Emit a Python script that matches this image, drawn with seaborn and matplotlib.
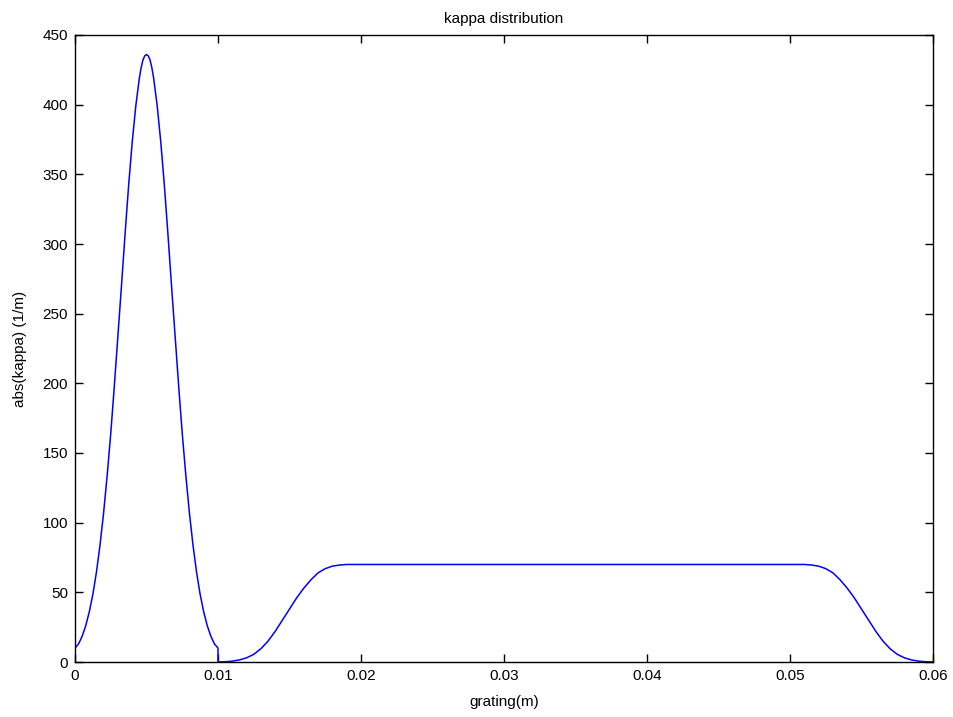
import matplotlib
matplotlib.use("Agg")
import matplotlib.pyplot as plt
import seaborn as sns
import pandas as pd

# ---- data ----
peak_x = [0.0, 0.00025, 0.0005, 0.00075, 0.001, 0.00125, 0.0015, 0.00175, 0.002,
          0.00225, 0.0025, 0.00275, 0.003, 0.00325, 0.0035, 0.00375, 0.004, 0.00425,
          0.0045, 0.004625, 0.00475, 0.004875, 0.005, 0.005125, 0.00525, 0.005375,
          0.0055, 0.00575, 0.006, 0.00625, 0.0065, 0.00675, 0.007, 0.00725, 0.0075,
          0.00775, 0.008, 0.00825, 0.0085, 0.00875, 0.009, 0.00925, 0.0095, 0.00975,
          0.01]
peak_y = [10, 13, 18.5, 26, 36, 48.6, 64.5, 84, 107, 134, 164, 198, 234, 270, 307,
          342, 373, 399, 419, 426.5, 432, 435, 436, 435, 432, 426.5, 419, 399, 373,
          342, 307, 270, 234, 198, 164, 134, 107, 84, 64.5, 48.6, 36, 26, 18.5, 13, 10]

plateau_x = [0.0100, 0.0105, 0.0110, 0.0115, 0.0120, 0.0125, 0.0130, 0.0135, 0.0140,
             0.0145, 0.0150, 0.0155, 0.0160, 0.0165, 0.0170, 0.0175, 0.0180, 0.0185,
             0.0190,
             0.0510, 0.0515, 0.0520, 0.0525, 0.0530, 0.0535, 0.0540, 0.0545, 0.0550,
             0.0555, 0.0560, 0.0565, 0.0570, 0.0575, 0.0580, 0.0585, 0.0590, 0.0595,
             0.0600]
plateau_y = [0, 0.2, 0.6, 1.5, 3, 5.5, 9.5, 15, 22, 30, 38, 46, 53, 59, 64, 67, 68.8,
             69.6, 70,
             70, 69.6, 68.8, 67, 64, 59, 53, 46, 38, 30, 22, 15, 9.5, 5.5, 3, 1.5, 0.6,
             0.2, 0]

x_ticks = [0, 0.01, 0.02, 0.03, 0.04, 0.05, 0.06]
x_tick_labels = ["0", "0.01", "0.02", "0.03", "0.04", "0.05", "0.06"]
y_ticks = [0, 50, 100, 150, 200, 250, 300, 350, 400, 450]

title = "kappa distribution"
x_label = "grating(m)"
y_label = "abs(kappa) (1/m)"

df = pd.DataFrame({"x": peak_x + plateau_x, "y": peak_y + plateau_y})

sns.set_style("ticks")
plt.rcParams["font.family"] = ["Liberation Sans Narrow", "Liberation Sans", "DejaVu Sans"]
plt.rcParams["xtick.direction"] = "in"
plt.rcParams["ytick.direction"] = "in"
plt.rcParams["text.color"] = "black"
plt.rcParams["axes.labelcolor"] = "black"

fig = plt.figure(figsize=(9.54, 7.17), dpi=100)
ax = fig.add_axes([75 / 954, 55 / 717, (933 - 75) / 954, (662 - 35) / 717])

sns.lineplot(data=df, x="x", y="y", sort=False, estimator=None, color="#0000ff",
             linewidth=1.1, ax=ax)

ax.set_xlim(0, 0.06)
ax.set_ylim(0, 450)
ax.set_xticks(x_ticks)
ax.set_xticklabels(x_tick_labels)
ax.set_yticks(y_ticks)
ax.tick_params(axis="both", which="major", direction="in", length=6, width=1,
               labelsize=11, top=True, right=True, colors="black", pad=5)
for s in ax.spines.values():
    s.set_visible(True)
    s.set_color("black")
    s.set_linewidth(1)

ax.set_title(title, fontsize=11, pad=9, color="black")
ax.set_xlabel(x_label, fontsize=11, labelpad=9, color="black")
ax.set_ylabel(y_label, fontsize=11, labelpad=11, color="black")

fig.savefig("out.png", dpi=100)
